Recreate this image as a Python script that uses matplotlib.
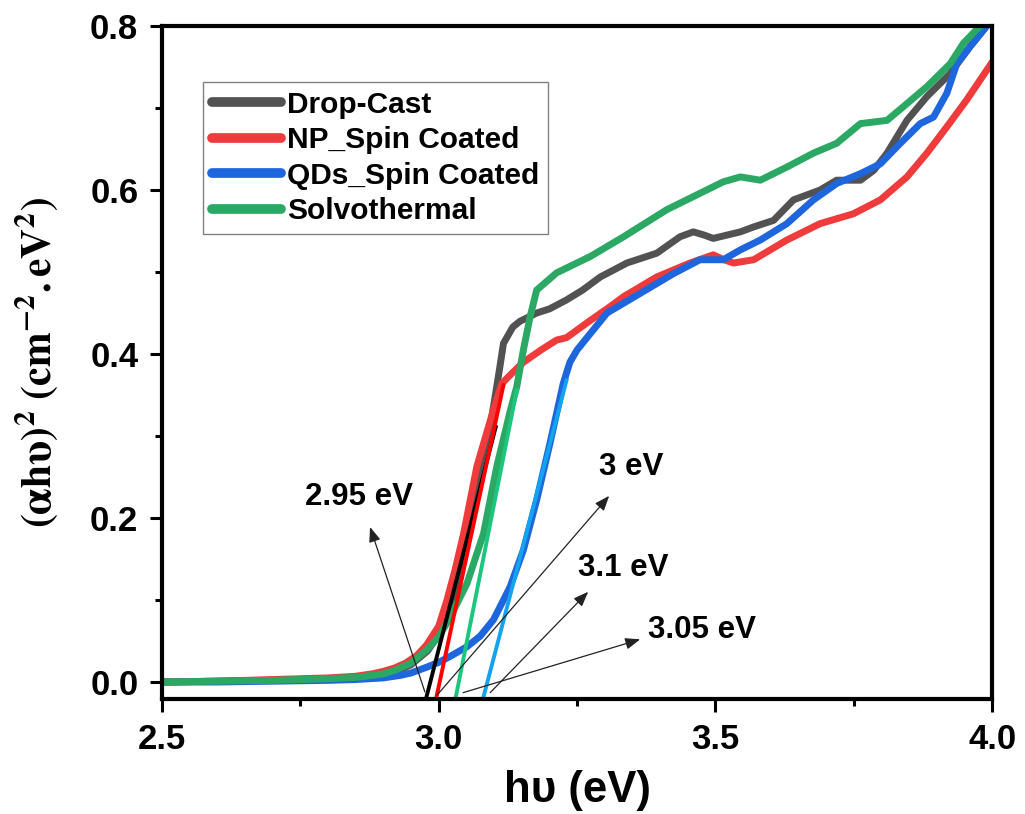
import matplotlib
matplotlib.use('Agg')
import matplotlib.pyplot as plt
from matplotlib.ticker import MultipleLocator

plt.rcParams['font.family'] = ['Liberation Sans', 'DejaVu Sans']
plt.rcParams['mathtext.fontset'] = 'stix'

# ---- data ----
drop_x = [2.50, 2.60, 2.70, 2.80, 2.85, 2.90, 2.93, 2.95, 2.98, 3.00, 3.02, 3.04, 3.06, 3.08, 3.09,
          3.10, 3.11, 3.117, 3.134, 3.147, 3.177, 3.20, 3.231, 3.26, 3.292, 3.34, 3.394, 3.436,
          3.46, 3.48, 3.496, 3.545, 3.569, 3.605, 3.641, 3.689, 3.719, 3.762, 3.786, 3.81,
          3.846, 3.882, 3.924, 3.96, 3.99]
drop_y = [0.000, 0.001, 0.002, 0.004, 0.006, 0.010, 0.015, 0.021, 0.038, 0.058, 0.088, 0.135, 0.200, 0.268, 0.300,
          0.340, 0.382, 0.413, 0.433, 0.440, 0.450, 0.455, 0.466, 0.478, 0.494, 0.511, 0.523, 0.543,
          0.549, 0.545, 0.541, 0.549, 0.555, 0.563, 0.588, 0.600, 0.612, 0.612, 0.624, 0.645,
          0.685, 0.714, 0.742, 0.775, 0.800]

np_x = [2.50, 2.60, 2.70, 2.80, 2.85, 2.88, 2.90, 2.92, 2.94, 2.96, 2.978, 3.00, 3.015, 3.03, 3.045, 3.069,
        3.085, 3.099, 3.114, 3.130, 3.153, 3.185, 3.213, 3.231, 3.274, 3.31, 3.334, 3.394, 3.454,
        3.496, 3.515, 3.533, 3.569, 3.629, 3.689, 3.749, 3.798, 3.846, 3.882, 3.918, 3.954,
        3.99, 4.0]
np_y = [0.000, 0.001, 0.003, 0.005, 0.007, 0.010, 0.013, 0.017, 0.023, 0.032, 0.045, 0.068, 0.100, 0.138, 0.181, 0.263,
        0.300, 0.332, 0.364, 0.375, 0.390, 0.405, 0.417, 0.420, 0.441, 0.458, 0.470, 0.494, 0.511,
        0.521, 0.515, 0.511, 0.515, 0.539, 0.559, 0.571, 0.588, 0.616, 0.645, 0.677, 0.710,
        0.746, 0.756]

qd_x = [2.50, 2.60, 2.70, 2.80, 2.85, 2.90, 2.93, 2.95, 2.978, 3.00, 3.02, 3.051, 3.075, 3.099, 3.129,
        3.153, 3.177, 3.201, 3.225, 3.237, 3.25, 3.274, 3.304, 3.364, 3.424, 3.472, 3.514, 3.545,
        3.581, 3.629, 3.677, 3.719, 3.762, 3.798, 3.834, 3.87, 3.894, 3.918, 3.936, 3.96, 3.99]
qd_y = [0.000, 0.000, 0.001, 0.002, 0.003, 0.005, 0.008, 0.011, 0.018, 0.024, 0.031, 0.043, 0.056, 0.076, 0.116,
        0.161, 0.222, 0.291, 0.364, 0.390, 0.405, 0.425, 0.450, 0.474, 0.498, 0.515, 0.515, 0.527,
        0.539, 0.559, 0.588, 0.608, 0.620, 0.632, 0.657, 0.681, 0.689, 0.718, 0.754, 0.775, 0.800]

solvo_x = [2.50, 2.60, 2.70, 2.80, 2.858, 2.90, 2.92, 2.95, 2.978, 3.00, 3.02, 3.051, 3.081, 3.105,
           3.129, 3.141, 3.153, 3.165, 3.177, 3.213, 3.274, 3.334, 3.412, 3.472, 3.514, 3.545,
           3.581, 3.629, 3.677, 3.719, 3.762, 3.81, 3.84, 3.882, 3.924, 3.948, 3.978]
solvo_y = [0.000, 0.001, 0.002, 0.004, 0.006, 0.010, 0.014, 0.023, 0.039, 0.055, 0.078, 0.120, 0.181, 0.263,
           0.330, 0.360, 0.405, 0.445, 0.478, 0.499, 0.519, 0.543, 0.576, 0.596, 0.610, 0.616,
           0.612, 0.628, 0.645, 0.657, 0.681, 0.685, 0.702, 0.726, 0.754, 0.779, 0.800]

labels = ['Drop-Cast', 'NP_Spin Coated', 'QDs_Spin Coated', 'Solvothermal']
colors = ['#525252', '#EF3B3C', '#1E66DD', '#2BA863']

# linear-fit tangents: (x at start, y at start, x at end, y at end)
tan_x0 = [2.978, 2.996, 3.031, 3.081]
tan_y0 = [-0.018, -0.018, -0.018, -0.018]
tan_x1 = [3.103, 3.117, 3.141, 3.231]
tan_y1 = [0.311, 0.362, 0.356, 0.368]
tan_colors = ['#000000', '#FF0000', '#1DC67E', '#14A3EE']

# band gap annotations: text, text pos, arrow head, arrow tail
gap_text = ['2.95 eV', '3 eV', '3.1 eV', '3.05 eV']
gap_text_xy = [(2.856, 0.226), (3.348, 0.262), (3.333, 0.139), (3.476, 0.063)]
gap_head_xy = [(2.876, 0.189), (3.308, 0.227), (3.270, 0.110), (3.364, 0.052)]
gap_tail_xy = [(2.975, -0.012), (2.997, -0.016), (3.093, -0.013), (3.044, -0.013)]

fig = plt.figure(figsize=(10.25, 8.14), dpi=100)
ax = fig.add_axes([0.158, 0.141, 0.810, 0.827])

series = [(drop_x, drop_y), (np_x, np_y), (qd_x, qd_y), (solvo_x, solvo_y)]
for (xs, ys), lab, c in zip(series, labels, colors):
    ax.plot(xs, ys, color=c, lw=5, label=lab, solid_capstyle='round', solid_joinstyle='round')

for x0, y0, x1, y1, c in zip(tan_x0, tan_y0, tan_x1, tan_y1, tan_colors):
    ax.plot([x0, x1], [y0, y1], color=c, lw=2.8)

for t, txy, hxy, sxy in zip(gap_text, gap_text_xy, gap_head_xy, gap_tail_xy):
    ax.annotate('', xy=hxy, xytext=sxy,
                arrowprops=dict(arrowstyle='-|>,head_length=0.9,head_width=0.35',
                                color='#222222', lw=0.9, shrinkA=0, shrinkB=0))
    ax.text(txy[0], txy[1], t, ha='center', va='center', fontsize=22.5, fontweight='bold')

ax.set_xlim(2.5, 4.0)
ax.set_ylim(-0.021, 0.8)
ax.xaxis.set_major_locator(MultipleLocator(0.5))
ax.xaxis.set_minor_locator(MultipleLocator(0.25))
ax.yaxis.set_major_locator(MultipleLocator(0.2))
ax.yaxis.set_minor_locator(MultipleLocator(0.1))
ax.tick_params(which='major', direction='out', length=9, width=2.2, labelsize=25, pad=8)
ax.tick_params(which='minor', direction='out', length=5, width=2.2)
for lab in ax.get_xticklabels() + ax.get_yticklabels():
    lab.set_fontweight('bold')
for sp in ax.spines.values():
    sp.set_linewidth(3)

ax.set_xlabel('h\u03c5 (eV)', fontsize=31.5, fontweight='bold', labelpad=10)
ax.set_ylabel(r'$\mathbf{(\alpha h\upsilon)^2\ (cm^{-2}.eV^2)}$', fontsize=30, labelpad=22)

leg = ax.legend(loc='upper left', bbox_to_anchor=(0.05, 0.917), borderaxespad=0,
                fancybox=False, framealpha=1, edgecolor='#808080',
                prop={'weight': 'bold', 'size': 21.5}, handlelength=2.3,
                handletextpad=0.2, labelspacing=0.25, borderpad=0.3)
leg.get_frame().set_linewidth(1.0)
for h in leg.get_lines():
    h.set_linewidth(7)

fig.savefig('out.png', dpi=100, facecolor='white')
